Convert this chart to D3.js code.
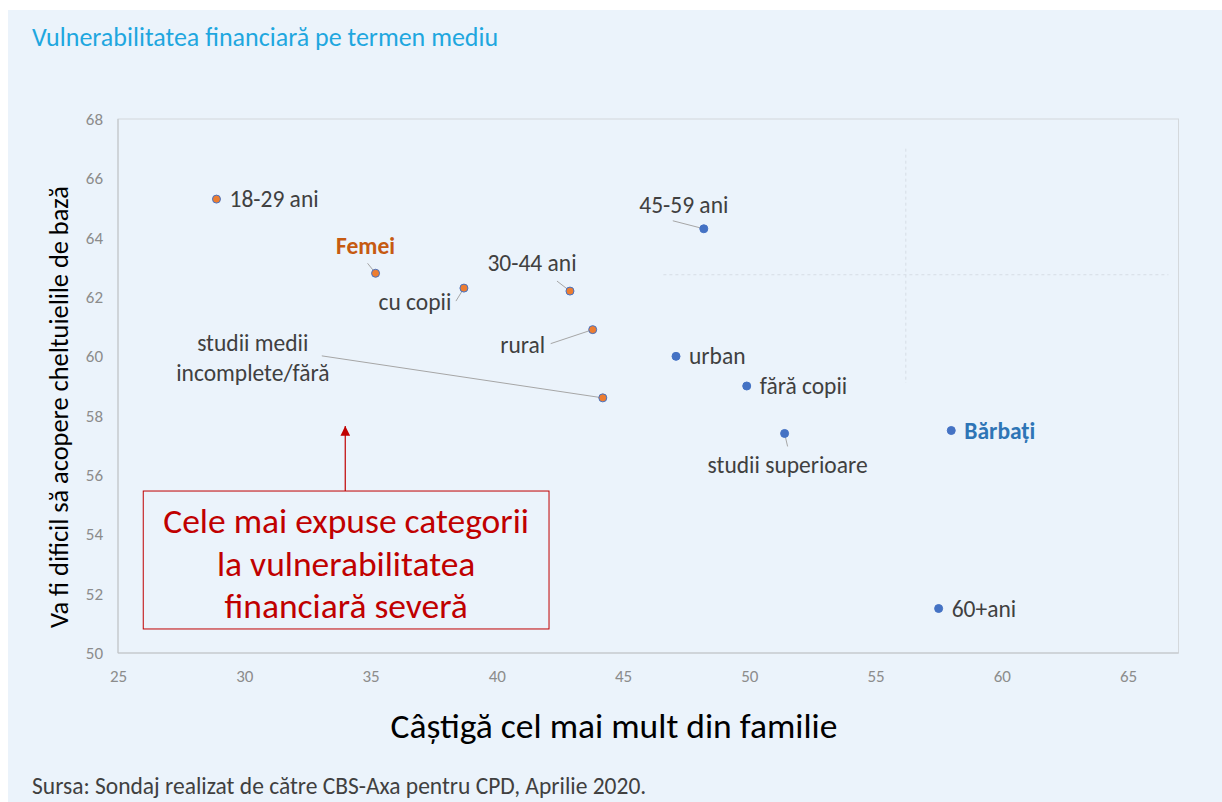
<!DOCTYPE html>
<html>
<head>
<meta charset="utf-8">
<script src="https://cdn.jsdelivr.net/npm/d3@7"></script>
<style>
  body { margin: 0; background: #fff; }
  svg text { font-family: Carlito, Lato, "Open Sans", sans-serif; }
</style>
</head>
<body>
<div id="chart"></div>
<script>
// categories and values
var labels = ['18-29 ani', 'Femei', 'cu copii', '30-44 ani', 'rural', 'studii medii incomplete/fără',
              '45-59 ani', 'urban', 'fără copii', 'studii superioare', 'Bărbați', '60+ani'];
var xVals = [28.9, 35.2, 38.7, 42.9, 43.8, 44.2, 48.2, 47.1, 49.9, 51.4, 58.0, 57.5];
var yVals = [65.3, 62.8, 62.3, 62.2, 60.9, 58.6, 64.3, 60.0, 59.0, 57.4, 57.5, 51.5];
var series = ['f', 'f', 'f', 'f', 'f', 'f', 'm', 'm', 'm', 'm', 'm', 'm'];

var xTicks = [25, 30, 35, 40, 45, 50, 55, 60, 65];
var yTicks = [50, 52, 54, 56, 58, 60, 62, 64, 66, 68];

// dashed guide lines (data coords)
var guideX = 56.2, guideY = 62.75;

var W = 1222, H = 802;
var m = { left: 118, top: 119, right: 1178, bottom: 653 };

var svg = d3.select('#chart').append('svg')
    .attr('width', W)
    .attr('height', H);

svg.append('rect')
    .attr('x', 8).attr('y', 10)
    .attr('width', W - 8).attr('height', H - 10)
    .attr('fill', '#EBF3FB');

var x = d3.scaleLinear().domain([25, 67]).range([m.left, m.left + 42 * 25.25]);
var y = d3.scaleLinear().domain([50, 68]).range([m.bottom, m.top]);

// plot frame
svg.append('rect')
    .attr('x', x(25)).attr('y', y(68))
    .attr('width', x(67) - x(25)).attr('height', y(50) - y(68))
    .attr('fill', 'none')
    .attr('stroke', '#D4D8DC');
svg.append('line')
    .attr('x1', x(25)).attr('x2', x(67)).attr('y1', y(50)).attr('y2', y(50))
    .attr('stroke', '#BFC3C7');
svg.append('line')
    .attr('x1', x(25)).attr('x2', x(25)).attr('y1', y(50)).attr('y2', y(68))
    .attr('stroke', '#BFC3C7');

// axes
var xAxis = svg.append('g')
    .attr('transform', 'translate(0,' + (m.bottom + 23) + ')')
    .call(d3.axisBottom(x).tickValues(xTicks).tickSize(0).tickPadding(0));
var yAxis = svg.append('g')
    .attr('transform', 'translate(' + (m.left - 15) + ',0)')
    .call(d3.axisLeft(y).tickValues(yTicks).tickSize(0).tickPadding(0));
[xAxis, yAxis].forEach(function(a) {
    a.select('.domain').remove();
    a.selectAll('text').attr('fill', '#8C8C8C').style('font-size', '17px');
});
xAxis.selectAll('text').attr('dy', '0.35em');

// guide lines
svg.append('line')
    .attr('x1', x(guideX)).attr('x2', x(guideX))
    .attr('y1', y(67.0)).attr('y2', y(59.1))
    .attr('stroke', '#D6DDE5').attr('stroke-dasharray', '3,3');
svg.append('line')
    .attr('x1', x(46.6)).attr('x2', x(66.6))
    .attr('y1', y(guideY)).attr('y2', y(guideY))
    .attr('stroke', '#D6DDE5').attr('stroke-dasharray', '3,3');

// label placement (pixel offsets from the point)
var place = {
    '18-29 ani':         { dx: 13, dy: 8, anchor: 'start' },
    'Femei':             { dx: -10, dy: -19, anchor: 'middle', lx: -8, ly: -10, bold: true, color: '#C65A11' },
    'cu copii':          { dx: -49, dy: 22, anchor: 'middle', lx: -8, ly: 13 },
    '30-44 ani':         { dx: -38, dy: -20, anchor: 'middle', lx: -13, ly: -10 },
    'rural':             { dx: -70, dy: 23, anchor: 'middle', lx: -42, ly: 14 },
    'studii medii incomplete/fără': { dx: -350, dy: -47, anchor: 'middle', lx: -281, ly: -42,
                           lines: ['studii medii', 'incomplete/fără'] },
    '45-59 ani':         { dx: -20, dy: -16, anchor: 'middle', lx: -31, ly: -8 },
    'urban':             { dx: 13, dy: 8, anchor: 'start' },
    'fără copii':        { dx: 13, dy: 8, anchor: 'start' },
    'studii superioare': { dx: 3, dy: 40, anchor: 'middle', lx: 3, ly: 13 },
    'Bărbați':           { dx: 13, dy: 8, anchor: 'start', bold: true, color: '#2E75B6' },
    '60+ani':            { dx: 13, dy: 8, anchor: 'start' }
};

var pts = labels.map(function(l, i) {
    return { label: l, x: xVals[i], y: yVals[i], s: series[i], p: place[l] };
});

// leader lines
svg.append('g').selectAll('line')
    .data(pts.filter(function(d) { return d.p.lx !== undefined; }))
    .enter().append('line')
    .attr('x1', function(d) { return x(d.x) + d.p.lx; })
    .attr('y1', function(d) { return y(d.y) + d.p.ly; })
    .attr('x2', function(d) { return x(d.x); })
    .attr('y2', function(d) { return y(d.y); })
    .attr('stroke', '#A6A6A6').attr('stroke-width', 1);

// points
svg.append('g').selectAll('circle')
    .data(pts)
    .enter().append('circle')
    .attr('cx', function(d) { return x(d.x); })
    .attr('cy', function(d) { return y(d.y); })
    .attr('r', 4)
    .attr('fill', function(d) { return d.s === 'f' ? '#ED7D31' : '#4472C4'; })
    .attr('stroke', '#4472C4').attr('stroke-width', 1);

// labels
var lab = svg.append('g').selectAll('text')
    .data(pts)
    .enter().append('text')
    .attr('x', function(d) { return x(d.x) + d.p.dx; })
    .attr('y', function(d) { return y(d.y) + d.p.dy; })
    .attr('text-anchor', function(d) { return d.p.anchor; })
    .attr('fill', function(d) { return d.p.color || '#404040'; })
    .style('font-size', '23.5px')
    .style('font-weight', function(d) { return d.p.bold ? 'bold' : 'normal'; });
lab.each(function(d) {
    var t = d3.select(this);
    var ls = d.p.lines || [d.label];
    ls.forEach(function(s, k) {
        t.append('tspan')
            .attr('x', x(d.x) + d.p.dx)
            .attr('dy', k === 0 ? 0 : 30)
            .text(s);
    });
});

// annotation box + arrow
var box = { x0: 26.0, x1: 42.07, y0: 55.46, y1: 50.81, tip: 57.65, ax: 34.0 };
var boxLines = ['Cele mai expuse categorii', 'la vulnerabilitatea', 'financiară severă'];
var red = '#C00000';
svg.append('defs').append('marker')
    .attr('id', 'arr').attr('viewBox', '0 0 10 10')
    .attr('refX', 10).attr('refY', 5)
    .attr('markerWidth', 8).attr('markerHeight', 8)
    .attr('orient', 'auto')
    .append('path').attr('d', 'M0,0 L10,5 L0,10 Z').attr('fill', red);
svg.append('rect')
    .attr('x', x(box.x0)).attr('y', y(box.y0))
    .attr('width', x(box.x1) - x(box.x0)).attr('height', y(box.y1) - y(box.y0))
    .attr('fill', 'none').attr('stroke', red).attr('stroke-width', 1);
svg.append('line')
    .attr('x1', x(box.ax)).attr('x2', x(box.ax))
    .attr('y1', y(box.y0)).attr('y2', y(box.tip))
    .attr('stroke', red).attr('stroke-width', 1.2)
    .attr('marker-end', 'url(#arr)');
svg.append('g').selectAll('text')
    .data(boxLines)
    .enter().append('text')
    .attr('x', (x(box.x0) + x(box.x1)) / 2)
    .attr('y', function(d, i) { return y(box.y0) + 42 + i * 42.5; })
    .attr('text-anchor', 'middle')
    .attr('fill', red)
    .style('font-size', '35.5px')
    .text(function(d) { return d; });

// titles
svg.append('text')
    .attr('x', 32).attr('y', 46)
    .attr('fill', '#1FA7DF')
    .style('font-size', '26px')
    .text('Vulnerabilitatea financiară pe termen mediu');
svg.append('text')
    .attr('x', 614).attr('y', 738)
    .attr('text-anchor', 'middle')
    .attr('fill', '#000')
    .style('font-size', '35.5px')
    .text('Câștigă cel mai mult din familie');
svg.append('text')
    .attr('transform', 'translate(68,' + 407 + ') rotate(-90)')
    .attr('text-anchor', 'middle')
    .attr('fill', '#000')
    .style('font-size', '26.4px')
    .text('Va fi dificil să acopere cheltuielile de bază');
svg.append('text')
    .attr('x', 32).attr('y', 794)
    .attr('fill', '#404040')
    .style('font-size', '23.5px')
    .text('Sursa: Sondaj realizat de către CBS-Axa pentru CPD, Aprilie 2020.');
</script>
</body>
</html>
